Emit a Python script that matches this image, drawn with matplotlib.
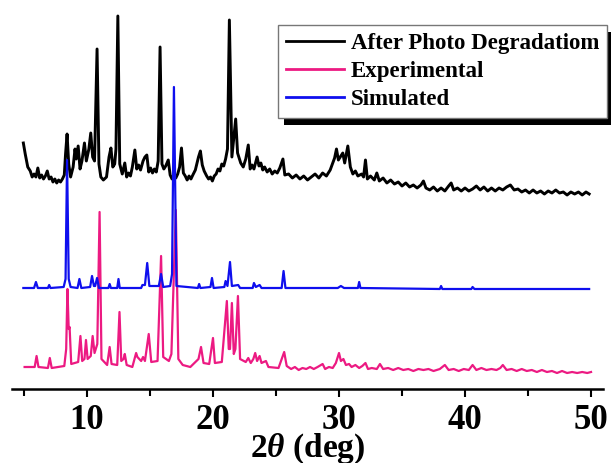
"""
XRD patterns: simulated vs experimental vs after photo degradation.
"""

import matplotlib.pyplot as plt
from matplotlib.patches import Rectangle
from matplotlib.ticker import MultipleLocator

# ---- data (2theta in deg, intensity in a.u.) ----
black_2theta = [4.95, 5.1, 5.3, 5.5, 5.65, 5.8, 5.95, 6.1, 6.25, 6.4, 6.55, 6.7, 6.85, 7.0,
                7.15, 7.3, 7.45, 7.6, 7.75, 7.9, 8.05, 8.2, 8.3, 8.42, 8.55, 8.7, 8.9, 9.05,
                9.15, 9.3, 9.45, 9.6, 9.8, 9.95, 10.15, 10.3, 10.45, 10.6, 10.8, 10.95, 11.1,
                11.3, 11.55, 11.75, 11.9, 12.05, 12.2, 12.3, 12.45, 12.6, 12.8, 13.0, 13.15,
                13.3, 13.45, 13.6, 13.8, 13.95, 14.1, 14.25, 14.45, 14.6, 14.75, 14.9, 15.05,
                15.2, 15.35, 15.5, 15.65, 15.8, 15.95, 16.1, 16.25, 16.45, 16.6, 16.75, 16.9,
                17.05, 17.2, 17.35, 17.5, 17.65, 17.8, 17.95, 18.1, 18.25, 18.4, 18.6, 18.85,
                19.0, 19.15, 19.3, 19.5, 19.65, 19.8, 19.95, 20.1, 20.25, 20.4, 20.55, 20.7,
                20.85, 21.0, 21.15, 21.3, 21.5, 21.8, 21.95, 22.2, 22.4, 22.6, 22.8, 22.95,
                23.1, 23.25, 23.5, 23.65, 23.8, 23.95, 24.1, 24.3, 24.5, 24.7, 24.9, 25.1,
                25.3, 25.55, 25.7, 26.0, 26.3, 26.6, 26.9, 27.2, 27.5, 27.8, 28.1, 28.4,
                28.7, 29.0, 29.3, 29.5, 29.65, 29.8, 29.95, 30.1, 30.3, 30.45, 30.7, 30.9,
                31.1, 31.3, 31.5, 31.8, 31.95, 32.1, 32.25, 32.5, 32.8, 33.0, 33.2, 33.5,
                33.8, 34.1, 34.4, 34.7, 35.0, 35.3, 35.6, 35.9, 36.2, 36.5, 36.7, 36.9,
                37.2, 37.5, 37.8, 38.1, 38.4, 38.7, 38.9, 39.1, 39.4, 39.7, 40.0, 40.3,
                40.6, 40.9, 41.2, 41.5, 41.8, 42.1, 42.4, 42.7, 43.0, 43.3, 43.6, 43.9,
                44.2, 44.5, 44.8, 45.1, 45.4, 45.7, 46.0, 46.3, 46.6, 46.9, 47.2, 47.5,
                47.8, 48.1, 48.4, 48.7, 49.0, 49.3, 49.6, 49.85]
black_counts = [246, 235, 222, 218, 212, 215, 212, 221, 211, 214, 210, 213, 218, 210,
                212, 207, 210, 206, 209, 207, 210, 214, 235, 255, 225, 212, 222, 240,
                230, 243, 220, 228, 246, 228, 240, 256, 232, 228, 340, 225, 212,
                209, 212, 232, 241, 222, 225, 240, 373, 225, 215, 226, 212,
                216, 213, 222, 239, 220, 224, 219, 228, 232, 234, 217, 221,
                216, 220, 217, 228, 342, 225, 220, 223, 229, 214, 210, 213,
                211, 215, 222, 241, 216, 213, 209, 213, 210, 214, 219, 232,
                238, 224, 218, 213, 210, 212, 208, 213, 215, 220, 218, 225,
                223, 230, 240, 369, 232, 270, 236, 226, 222, 230, 244, 220,
                224, 220, 232, 223, 226, 219, 222, 217, 220, 215, 218, 216,
                221, 230, 214, 215, 211, 214, 210, 213, 209, 212, 215, 211,
                216, 213, 219, 226, 231, 240, 229, 232, 236, 226, 243, 222,
                215, 218, 213, 215, 212, 229, 210, 213, 209, 216, 208, 211,
                206, 209, 205, 207, 203, 206, 202, 204, 201, 204, 208, 201,
                199, 202, 198, 201, 198, 203, 206, 199, 201, 198, 201, 198,
                200, 203, 199, 202, 198, 201, 198, 201, 199, 202, 204, 199,
                200, 197, 199, 196, 199, 196, 198, 195, 198, 196, 199, 196,
                197, 194, 197, 195, 197, 194, 197, 195]

exp_2theta = [5.05, 5.85, 6.0, 6.15, 6.9, 7.05, 7.2, 8.2, 8.35, 8.45, 8.55, 8.62, 8.75,
              9.3, 9.48, 9.62, 9.8, 9.92, 10.05, 10.3, 10.45, 10.6, 10.7, 10.82, 11.0,
              11.15, 11.6, 11.8, 11.95, 12.4, 12.58, 12.72, 12.9, 13.0, 13.15, 13.6, 13.9,
              14.0, 14.3, 14.45, 14.6, 14.9, 15.1, 15.6, 15.88, 16.05, 16.5, 16.7, 17.05,
              17.25, 17.6, 18.2, 18.85, 19.05, 19.25, 19.7, 20.0, 20.15, 20.7, 21.1, 21.25,
              21.35, 21.5, 21.65, 21.78, 21.98, 22.15, 22.6, 22.8, 23.0, 23.2, 23.35, 23.5,
              23.7, 23.85, 24.2, 24.4, 25.2, 25.65, 25.85, 26.2, 26.5, 26.8, 27.1, 27.4,
              27.7, 28.0, 28.3, 28.7, 28.9, 29.2, 29.5, 29.75, 30.0, 30.15, 30.35, 30.55,
              30.8, 31.0, 31.3, 31.6, 31.85, 32.1, 32.3, 32.6, 33.0, 33.25, 33.5, 33.9,
              34.3, 34.7, 35.1, 35.5, 35.9, 36.3, 36.7, 37.1, 37.5, 38.0, 38.4, 38.7,
              39.1, 39.5, 39.9, 40.3, 40.6, 40.9, 41.3, 41.7, 42.1, 42.5, 42.8, 43.0,
              43.3, 43.7, 44.1, 44.5, 44.9, 45.3, 45.7, 46.1, 46.5, 46.9, 47.3, 47.7,
              48.1, 48.5, 48.9, 49.3, 49.7, 50.0]
exp_counts = [22, 22, 33, 22, 21, 31, 21, 23, 40, 100, 60, 62, 25,
              27, 53, 28, 30, 49, 30, 33, 53, 36, 40, 45, 177,
              30, 24, 42, 25, 24, 77, 28, 30, 35, 24, 22, 36,
              32, 28, 32, 28, 55, 27, 28, 133, 32, 28, 35, 179,
              30, 24, 22, 30, 42, 26, 25, 51, 26, 27, 88, 40,
              40, 86, 35, 40, 93, 30, 27, 31, 26, 30, 36, 28,
              33, 26, 28, 22, 21, 37, 23, 20, 22, 19, 21, 20,
              22, 20, 22, 25, 20, 22, 21, 26, 36, 28, 30, 24,
              25, 22, 24, 21, 23, 26, 20, 21, 20, 25, 20, 21,
              19, 21, 19, 20, 18, 20, 19, 20, 18, 20, 24, 19,
              20, 18, 20, 19, 24, 19, 21, 19, 20, 19, 21, 24,
              19, 20, 18, 20, 18, 19, 17, 19, 17, 18, 16, 18,
              16, 17, 16, 17, 16, 17]

sim_2theta = [4.95, 5.8, 5.95, 6.1, 6.9, 7.0, 7.1, 8.15, 8.3, 8.42, 8.55, 8.7, 9.25, 9.4,
              9.55, 10.25, 10.4, 10.55, 10.65, 10.8, 10.95, 11.7, 11.8, 11.9, 12.4, 12.5,
              12.6, 14.3, 14.4, 14.6, 14.78, 14.95, 15.7, 15.88, 16.05, 16.6, 16.75, 16.9,
              17.1, 18.8, 18.9, 19.0, 19.8, 19.92, 20.05, 20.9, 21.0, 21.15, 21.35, 21.5,
              22.0, 22.15, 23.15, 23.25, 23.4, 23.7, 23.85, 25.45, 25.6, 25.75, 29.9, 30.15,
              30.4, 31.5, 31.6, 31.7, 38.0, 38.1, 38.2, 40.5, 40.6, 40.75, 49.85]
sim_counts = [101, 101, 107, 101, 101, 104, 101, 102, 110, 229, 110, 102, 101, 110,
              101, 102, 113, 103, 103, 111, 101, 101, 105, 101, 101, 110,
              101, 101, 104, 104, 126, 103, 103, 115, 102, 103, 115, 302,
              103, 101, 105, 101, 102, 111, 101, 102, 108, 103, 127, 103,
              104, 101, 101, 106, 102, 104, 101, 101, 118, 101, 101, 103,
              101, 101, 107, 101, 100, 103, 100, 100, 102, 100, 100]

labels = ['After Photo Degradatiom', 'Experimental', 'Simulated']
colors = ['black', '#EC1A82', '#0F0FEE']

plt.rcParams['font.family'] = 'Liberation Serif'
plt.rcParams['font.weight'] = 'bold'
plt.rcParams['axes.labelweight'] = 'bold'
plt.rcParams['mathtext.fontset'] = 'custom'
plt.rcParams['mathtext.rm'] = 'Liberation Serif:bold'
plt.rcParams['mathtext.it'] = 'Liberation Serif:italic:bold'
plt.rcParams['mathtext.bf'] = 'Liberation Serif:bold'

fig = plt.figure(figsize=(6.11, 4.63), dpi=100)
ax = fig.add_axes([12 / 611, 74 / 463, 591 / 611, 381 / 463])

l1, = ax.plot(black_2theta, black_counts, color=colors[0], lw=2.1, zorder=2)
l2, = ax.plot(exp_2theta, exp_counts, color=colors[1], lw=1.6, zorder=3)
l3, = ax.plot(sim_2theta, sim_counts, color=colors[2], lw=1.6, zorder=4)

ax.set_xlim(4.05, 50.95)
ax.set_ylim(0, 381)
ax.xaxis.set_major_locator(MultipleLocator(10))
ax.xaxis.set_minor_locator(MultipleLocator(5))
ax.tick_params(axis='x', which='both', direction='out', width=1.5, labelsize=25, pad=5)
ax.tick_params(axis='x', which='major', length=6)
ax.tick_params(axis='x', which='minor', length=5)
ax.set_yticks([])
for side in ['left', 'top', 'right']:
    ax.spines[side].set_visible(False)
ax.spines['bottom'].set_linewidth(1.8)
ax.set_xlabel(r'2$\theta$ (deg)', fontsize=24, fontweight='bold', labelpad=-4)

leg = ax.legend([l1, l2, l3], labels, loc='upper right',
                bbox_to_anchor=(607 / 611, 1 - 25 / 463), bbox_transform=fig.transFigure,
                borderaxespad=0, fancybox=False, framealpha=1, edgecolor='#777777',
                handlelength=2.5, handletextpad=0.3, labelspacing=0.3,
                borderpad=0.35, prop={'weight': 'bold', 'size': 16.5})
leg.get_frame().set_linewidth(1.0)
for h in leg.legend_handles:
    h.set_linewidth(2)
leg.set_zorder(10)

# black drop shadow under the legend box
fig.canvas.draw()
bb = leg.get_window_extent()
shadow = Rectangle((bb.x0 + 6, bb.y0 - 7), bb.width, bb.height, transform=None,
                   facecolor='black', edgecolor='none', zorder=9, clip_on=False)
ax.add_artist(shadow)

plt.savefig('out.png', dpi=100)
